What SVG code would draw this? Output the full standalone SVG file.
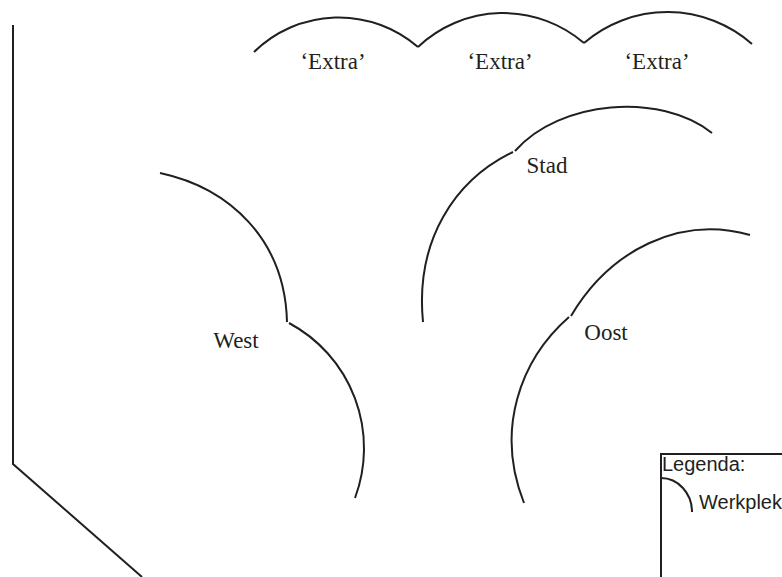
<svg xmlns="http://www.w3.org/2000/svg" width="782" height="577" viewBox="0 0 782 577">
<style>
.ln{fill:none;stroke:#231f20;stroke-width:2;stroke-linecap:butt}
.lbl{font-family:"Liberation Serif","Times New Roman",serif;font-size:23px;fill:#231f20;text-anchor:middle}
.leg{font-family:"Liberation Sans",Arial,sans-serif;font-size:20px;fill:#231f20}
</style>
<rect width="782" height="577" fill="#ffffff"/>
<g id="wall">
<path class="ln" d="M13,25 L13,464 L142,577"/>
</g>
<g id="extra1">
<path class="ln" d="M254,52 A121,121 0 0 1 418,47"/>
<text class="lbl" x="333" y="69">‘Extra’</text>
</g>
<g id="extra2">
<path class="ln" d="M418,47 A124,124 0 0 1 584,43"/>
<text class="lbl" x="500" y="69">‘Extra’</text>
</g>
<g id="extra3">
<path class="ln" d="M584,43 A128,128 0 0 1 752,44"/>
<text class="lbl" x="657" y="69">‘Extra’</text>
</g>
<g id="west">
<path class="ln" d="M160,173 C230,188 285,240 287,322"/>
<path class="ln" d="M289,323 A142,142 0 0 1 355,498"/>
<text class="lbl" x="236" y="348">West</text>
</g>
<g id="stad">
<path class="ln" d="M513,152 C455,180 415,240 423,322"/>
<path class="ln" d="M515,151 C560,100 660,92 712,133"/>
<text class="lbl" x="547" y="173">Stad</text>
</g>
<g id="oost">
<path class="ln" d="M571,316 C610,250 680,215 750,235"/>
<path class="ln" d="M569,317 C520,360 495,430 524,503"/>
<text class="lbl" x="606" y="340">Oost</text>
</g>
<g id="legend">
<path class="ln" d="M661,577 L661,454 L782,454"/>
<text class="leg" x="662" y="471">Legenda:</text>
<path class="ln" d="M661,478 A31,34 0 0 1 692,512"/>
<text class="leg" x="699" y="509">Werkplek</text>
</g>
<g id="connectors"></g>
</svg>
